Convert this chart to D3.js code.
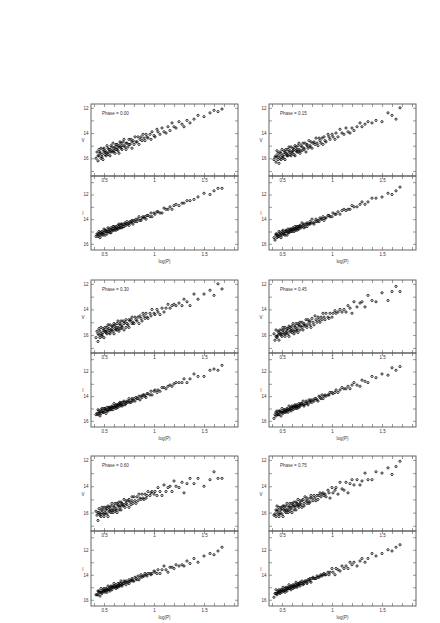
<!DOCTYPE html>
<meta charset="utf-8">
<style>
body { margin: 0; background: #fff; }
svg text { font-family: "Liberation Sans", Arial, sans-serif; fill: #333; }
.axis text { font-size: 4.5px; fill: #333; }
.axis line { stroke: #555; stroke-width: 0.6px; }
.frame { fill: none; stroke: #555; stroke-width: 0.9px; }
.star { fill: none; stroke: #000; stroke-width: 0.8px; }
.lbl { font-size: 4.5px; }
</style>
<body>
<script src="https://cdnjs.cloudflare.com/ajax/libs/d3/7.8.5/d3.min.js"></script>
<script>

// log of the period, one entry per star (same stars in every panel)
var logP = [0.42,0.43,0.44,0.44,0.45,0.45,0.46,0.46,0.47,0.47,
  0.48,0.48,0.49,0.49,0.50,0.50,0.51,0.51,0.52,0.52,
  0.53,0.53,0.54,0.54,0.55,0.55,0.56,0.56,0.57,0.57,
  0.58,0.58,0.59,0.59,0.60,0.60,0.61,0.61,0.62,0.62,
  0.63,0.63,0.64,0.64,0.65,0.65,0.66,0.66,0.67,0.67,
  0.68,0.68,0.69,0.70,0.70,0.71,0.72,0.72,0.73,0.74,
  0.75,0.75,0.76,0.77,0.78,0.78,0.79,0.80,0.81,0.82,
  0.83,0.84,0.85,0.86,0.87,0.88,0.89,0.90,0.91,0.92,
  0.93,0.94,0.96,0.97,0.98,1.00,1.01,1.03,1.04,1.06,
  1.08,1.10,1.12,1.14,1.16,1.18,1.20,1.22,1.25,1.28,
  1.30,1.33,1.36,1.40,1.44,1.50,1.56,1.60,1.64,1.68];

var phases = ["0.00", "0.15", "0.30", "0.45", "0.60", "0.75"];

// V magnitudes at each phase
var v000 = [16.0,15.5,15.8,16.2,15.3,15.8,15.6,15.5,16.0,15.2,
  15.7,15.9,15.3,16.1,15.5,15.2,15.7,15.4,15.8,15.5,
  15.0,15.6,15.7,15.2,15.5,15.3,15.8,15.3,15.0,15.5,
  15.4,15.1,15.5,14.8,15.2,15.4,15.1,15.6,14.9,15.3,
  15.3,14.9,15.1,15.4,15.0,15.6,14.7,15.1,14.8,15.2,
  15.0,15.3,14.7,15.0,14.5,15.1,15.3,14.8,14.8,15.1,
  14.5,14.9,14.9,14.5,15.2,14.7,14.6,14.9,14.3,14.7,
  14.7,14.3,14.9,14.5,14.3,14.6,14.1,14.4,14.6,14.1,
  14.3,14.4,14.1,14.5,13.9,14.2,14.3,13.7,13.9,14.1,
  13.6,13.9,14.0,13.5,13.8,13.2,13.5,13.6,13.1,13.3,
  13.5,13.0,13.2,12.9,12.6,12.7,12.4,12.2,12.3,12.1];
var v015 = [16.1,15.9,15.8,16.3,15.4,15.9,16.1,15.6,16.4,15.8,
  15.5,16.0,15.6,16.1,15.8,15.3,15.9,16.0,15.4,15.7,
  15.5,16.1,15.6,15.3,15.8,15.7,15.3,15.8,15.1,15.5,
  15.7,15.4,15.8,15.1,15.5,15.6,15.2,15.4,15.7,15.3,
  15.8,15.0,15.4,15.1,15.5,15.3,15.5,15.0,15.3,14.8,
  15.4,15.6,15.0,15.1,15.4,14.8,15.2,15.3,14.8,15.5,
  15.0,14.9,15.2,14.6,15.0,15.1,14.7,15.2,14.8,14.7,
  14.9,14.4,14.8,15.0,14.4,14.6,14.8,14.4,14.9,14.3,
  14.6,14.7,14.1,14.3,14.5,14.1,14.3,14.5,14.0,14.3,
  13.7,14.0,14.1,13.6,13.9,14.0,13.6,13.8,13.5,13.2,
  13.5,13.3,13.1,13.2,13.0,13.1,12.4,12.6,12.9,12.0];
var v030 = [16.2,15.7,16.5,15.9,15.5,16.0,15.7,16.2,15.9,15.4,
  16.0,16.1,15.5,15.8,15.6,16.2,15.7,15.4,15.8,15.7,
  15.4,15.9,15.2,15.6,15.8,15.5,15.9,15.2,15.6,15.7,
  15.3,15.5,15.7,15.3,15.9,15.1,15.5,15.2,15.6,15.4,
  15.6,15.1,15.4,14.9,15.5,15.7,15.1,15.2,15.5,14.9,
  15.3,15.4,14.9,15.6,15.1,15.0,15.4,14.8,15.1,15.2,
  14.8,15.4,14.9,14.8,15.1,14.6,15.0,15.1,14.6,14.8,
  14.9,14.6,15.1,14.5,14.7,14.9,14.3,14.5,14.7,14.3,
  14.6,14.7,14.3,14.5,14.0,14.3,14.4,14.0,14.2,14.4,
  13.9,14.2,13.9,13.6,13.9,13.7,13.6,13.7,13.5,13.7,
  13.2,13.4,13.7,12.8,13.2,12.8,12.5,12.9,12.0,12.4];
var v045 = [15.9,16.4,16.1,15.6,16.1,16.2,15.7,16.0,15.8,16.4,
  15.9,15.6,16.0,15.9,15.6,16.1,15.4,15.8,15.9,15.6,
  16.1,15.4,15.8,15.9,15.5,15.7,15.9,15.5,16.1,15.3,
  15.7,15.4,15.7,15.5,15.8,15.3,15.6,15.1,15.7,15.9,
  15.3,15.4,15.7,15.1,15.5,15.6,15.1,15.8,15.3,15.2,
  15.6,15.0,15.3,15.4,15.0,15.6,15.2,15.1,15.3,14.8,
  15.2,15.4,14.8,15.0,15.2,14.9,15.4,14.7,15.0,15.2,
  14.5,14.8,15.0,14.6,14.8,15.0,14.6,14.8,14.3,14.6,
  14.8,14.3,14.6,14.7,14.3,14.6,14.3,14.1,14.3,14.2,
  14.0,14.2,14.0,14.2,13.7,13.9,14.3,13.4,13.8,13.5,
  13.4,13.8,12.9,13.3,13.4,12.7,13.3,12.6,12.2,12.6];
var v060 = [15.9,16.2,16.0,16.6,16.0,15.7,16.2,16.1,15.8,16.3,
  15.6,16.0,16.1,15.8,16.3,15.6,16.0,16.1,15.6,15.8,
  16.1,15.7,16.3,15.5,15.9,15.6,15.9,15.7,16.0,15.5,
  15.8,15.3,15.8,16.0,15.5,15.6,15.9,15.3,15.7,15.8,
  15.3,16.0,15.5,15.4,15.8,15.2,15.5,15.6,15.2,15.8,
  15.4,15.3,15.5,15.0,15.4,15.6,15.1,15.3,15.4,15.1,
  15.6,15.0,15.2,15.4,14.8,15.1,15.3,14.8,15.1,15.3,
  14.8,15.1,14.6,14.9,15.0,14.6,14.9,15.0,14.6,14.9,
  14.7,14.4,14.7,14.5,14.4,14.6,14.4,14.7,14.1,14.4,
  14.7,13.9,14.4,14.1,14.0,14.4,13.6,14.0,14.1,13.7,
  14.5,13.8,13.4,13.8,13.4,14.0,13.5,12.9,13.4,13.4];
var v075 = [16.2,16.1,15.8,16.3,15.5,15.9,16.1,15.8,16.3,15.6,
  16.0,16.1,15.6,15.8,16.1,15.7,16.3,15.5,15.8,15.5,
  15.9,15.7,16.0,15.5,15.8,15.3,15.8,16.0,15.5,15.6,
  15.9,15.3,15.6,15.7,15.3,16.0,15.5,15.4,15.8,15.2,
  15.5,15.6,15.2,15.8,15.4,15.3,15.5,15.0,15.4,15.6,
  15.1,15.3,15.4,15.1,15.6,15.0,15.3,15.5,14.8,15.1,
  15.3,14.9,15.1,15.3,14.9,15.2,14.7,14.9,15.1,14.7,
  14.9,15.1,14.7,15.0,14.7,14.5,14.8,14.6,14.5,14.7,
  14.6,14.8,14.3,14.5,14.9,14.1,14.5,14.3,14.1,14.6,
  13.7,14.2,14.3,13.7,14.5,13.8,13.5,13.9,13.5,13.9,
  13.6,13.0,13.5,13.5,12.9,13.0,12.6,13.1,12.5,12.1];

// I magnitudes at each phase
var i000 = [15.4,15.2,15.4,15.2,15.0,15.3,15.5,15.1,15.1,15.3,
  15.0,15.2,15.1,15.3,14.8,15.1,14.9,15.3,15.0,14.9,
  15.2,15.0,14.7,15.0,15.0,14.8,15.1,14.9,14.7,15.1,
  14.8,14.9,14.6,14.9,14.9,14.6,14.7,14.8,14.6,14.9,
  14.8,14.7,14.5,14.8,14.6,14.4,14.7,14.7,14.5,14.4,
  14.7,14.4,14.6,14.4,14.6,14.3,14.4,14.5,14.2,14.4,
  14.3,14.5,14.2,14.3,14.2,14.1,14.4,14.1,14.2,14.0,
  14.2,14.0,13.8,14.1,14.1,13.9,13.8,13.9,13.8,14.0,
  13.7,13.7,13.8,13.5,13.8,13.5,13.6,13.4,13.4,13.5,
  13.5,13.1,13.2,13.2,13.0,13.2,12.9,12.8,12.9,12.7,
  12.7,12.5,12.5,12.4,12.2,11.9,12.0,11.7,11.5,11.5];
var i015 = [15.5,15.7,15.2,15.3,15.5,15.2,15.4,15.3,15.4,15.0,
  15.3,15.1,15.5,15.2,15.0,15.3,15.1,14.9,15.2,15.2,
  15.0,15.3,15.0,14.9,15.3,15.0,15.1,14.8,15.0,15.1,
  14.8,14.9,15.0,14.8,15.0,14.9,14.8,14.7,15.0,14.8,
  14.6,14.9,14.8,14.7,14.6,14.9,14.6,14.8,14.6,14.8,
  14.5,14.6,14.7,14.3,14.6,14.5,14.7,14.4,14.6,14.4,
  14.3,14.6,14.4,14.4,14.2,14.4,14.3,14.0,14.3,14.4,
  14.2,14.0,14.2,14.1,14.2,13.9,14.0,14.0,13.8,14.1,
  13.9,13.9,13.7,13.7,13.8,13.8,13.5,13.6,13.6,13.4,
  13.6,13.3,13.2,13.3,13.2,13.2,12.9,13.0,13.0,12.8,
  12.6,12.8,12.6,12.3,12.3,12.2,11.9,12.0,11.7,11.4];
var i030 = [15.5,15.4,15.5,15.1,15.4,15.2,15.6,15.3,15.1,15.4,
  15.2,15.0,15.3,15.3,15.0,15.3,15.1,15.0,15.4,15.1,
  15.2,14.9,15.1,15.2,14.9,15.0,15.1,14.9,15.1,15.0,
  14.9,14.8,15.1,14.9,14.6,14.9,14.9,14.8,14.7,15.0,
  14.7,14.9,14.7,14.9,14.6,14.7,14.8,14.5,14.7,14.6,
  14.8,14.5,14.7,14.5,14.4,14.7,14.5,14.6,14.4,14.5,
  14.4,14.2,14.5,14.5,14.3,14.2,14.4,14.2,14.4,14.1,
  14.2,14.2,14.0,14.3,14.0,14.1,13.9,13.9,14.0,14.1,
  13.8,13.8,13.9,13.6,13.9,13.6,13.5,13.7,13.5,13.6,
  13.3,13.3,13.4,13.2,13.1,13.2,13.0,12.9,12.9,12.9,
  12.6,12.9,12.6,12.2,12.4,12.4,11.9,11.8,11.9,11.5];
var i045 = [15.8,15.5,15.3,15.6,15.4,15.2,15.5,15.5,15.2,15.5,
  15.3,15.2,15.6,15.3,15.3,15.0,15.3,15.4,15.1,15.2,
  15.3,15.1,15.3,15.2,15.1,15.0,15.3,15.1,14.8,15.1,
  15.1,15.0,14.9,15.2,14.8,15.0,14.9,15.1,14.8,14.9,
  15.0,14.7,14.9,14.8,15.0,14.7,14.9,14.8,14.6,14.9,
  14.7,14.8,14.6,14.7,14.6,14.4,14.7,14.8,14.6,14.4,
  14.6,14.5,14.7,14.3,14.4,14.5,14.3,14.5,14.3,14.4,
  14.2,14.2,14.3,14.4,14.0,14.1,14.2,13.9,14.2,14.0,
  13.9,14.0,13.9,13.9,13.7,13.7,13.8,13.7,13.5,13.7,
  13.5,13.3,13.4,13.4,13.2,13.4,13.1,12.9,13.1,13.2,
  12.7,12.8,12.9,12.4,12.5,12.2,12.3,11.7,11.9,11.6];
var i060 = [15.6,15.6,15.3,15.6,15.4,15.3,15.7,15.4,15.4,15.1,
  15.4,15.5,15.2,15.3,15.3,15.1,15.4,15.3,15.2,15.1,
  15.4,15.2,14.9,15.2,15.2,15.1,15.0,15.3,14.9,15.1,
  15.0,15.2,14.9,15.0,15.0,14.7,15.0,14.9,15.1,14.8,
  15.0,14.9,14.7,15.0,14.8,14.9,14.7,14.9,14.7,14.5,
  14.8,14.9,14.7,14.5,14.7,14.6,14.8,14.5,14.6,14.6,
  14.4,14.7,14.5,14.5,14.3,14.4,14.5,14.5,14.2,14.3,
  14.4,14.1,14.4,14.2,14.0,14.2,14.1,14.1,13.9,14.0,
  14.1,13.9,13.9,14.0,13.9,13.7,13.8,13.9,13.6,13.9,
  13.6,13.3,13.6,13.8,13.4,13.4,13.5,13.2,13.3,13.2,
  13.3,12.9,13.1,12.7,13.0,12.5,12.3,12.4,12.1,11.8];
var i075 = [15.8,15.5,15.5,15.2,15.5,15.6,15.3,15.4,15.4,15.2,
  15.5,15.4,15.3,15.2,15.4,15.2,15.0,15.3,15.3,15.2,
  15.1,15.4,15.0,15.2,15.1,15.3,15.0,15.1,15.1,14.8,
  15.1,15.0,15.2,14.9,15.0,14.9,14.8,15.1,14.9,15.0,
  14.8,15.0,14.8,14.6,14.9,15.0,14.8,14.7,14.8,14.7,
  14.9,14.6,14.7,14.7,14.5,14.8,14.6,14.7,14.5,14.5,
  14.6,14.7,14.4,14.4,14.5,14.3,14.6,14.3,14.2,14.3,
  14.3,14.3,14.1,14.2,14.2,14.1,14.0,14.1,14.0,13.9,
  14.0,14.0,13.8,14.0,13.8,13.5,13.8,14.0,13.5,13.6,
  13.7,13.3,13.5,13.3,13.5,13.0,13.2,13.0,13.3,12.9,
  12.7,13.0,12.7,12.3,12.5,12.3,12.0,12.1,11.8,11.6];

var vSets = [v000, v015, v030, v045, v060, v075];
var iSets = [i000, i015, i030, i045, i060, i075];

// axis ticks
var xTicks = [0.4,0.5,0.6,0.7,0.8,0.9,1.0,1.1,1.2,1.3,1.4,1.5,1.6,1.7,1.8];
var xMajor = [0.5, 1, 1.5];
var xLabels = ["0.5", "1", "1.5"];
var vTicks = [12,13,14,15,16,17];
var iTicks = [11,12,13,14,15,16];
var yMajor = [12, 14, 16];
var yLabels = ["12", "14", "16"];

var width = 440,
    height = 623;

// layout: left/right edge of each column, top/middle/bottom of each row
var cols = [[91, 238], [269, 416]];
var rows = [[104, 176, 250], [280, 353, 427], [456, 531, 606]];

var svg = d3.select("body").append("svg")
    .attr("width", width)
    .attr("height", height);

svg.append("rect").attr("width", width).attr("height", height).attr("fill", "#fff");

function fmtX(d) {
  var k = xMajor.indexOf(d);
  return k < 0 ? "" : xLabels[k];
}
function fmtY(d) {
  var k = yMajor.indexOf(d);
  return k < 0 ? "" : yLabels[k];
}

function drawPanel(x, y, mags, col, top, bottom, yTicks, band) {
  var g = svg.append("g");

  g.append("rect")
    .attr("class", "frame")
    .attr("x", col[0]).attr("y", top)
    .attr("width", col[1] - col[0]).attr("height", bottom - top);

  g.append("g").attr("class", "axis")
    .attr("transform", "translate(0," + bottom + ")")
    .call(d3.axisBottom(x).tickValues(xTicks).tickSize(-3).tickPadding(2.5).tickFormat(fmtX));
  g.append("g").attr("class", "axis")
    .attr("transform", "translate(0," + top + ")")
    .call(d3.axisTop(x).tickValues(xTicks).tickSize(-3).tickFormat(""));
  g.append("g").attr("class", "axis")
    .attr("transform", "translate(" + col[0] + ",0)")
    .call(d3.axisLeft(y).tickValues(yTicks).tickSize(-3).tickPadding(2.5).tickFormat(fmtY));
  g.append("g").attr("class", "axis")
    .attr("transform", "translate(" + col[1] + ",0)")
    .call(d3.axisRight(y).tickValues(yTicks).tickSize(-3).tickFormat(""));
  g.selectAll(".domain").remove();

  g.selectAll(".star")
    .data(logP)
    .enter().append("circle")
    .attr("class", "star")
    .attr("cx", function(d) { return x(d); })
    .attr("cy", function(d, j) { return y(mags[j]); })
    .attr("r", 1.1);

  g.append("text")
    .attr("class", "lbl")
    .attr("x", col[0] - 8)
    .attr("y", (top + bottom) / 2 + 2)
    .attr("text-anchor", "middle")
    .text(band);
}

phases.forEach(function(ph, k) {
  var col = cols[k % 2],
      row = rows[Math.floor(k / 2)];

  var x = d3.scaleLinear().domain([0.37, 1.84]).range(col);
  var yV = d3.scaleLinear().domain([11.7, 17.4]).range([row[0], row[1]]);
  var yI = d3.scaleLinear().domain([10.5, 16.5]).range([row[1], row[2]]);

  drawPanel(x, yI, iSets[k], col, row[1], row[2], iTicks, "I");
  drawPanel(x, yV, vSets[k], col, row[0], row[1], vTicks, "V");

  svg.append("text")
    .attr("class", "lbl")
    .attr("x", col[0] + 11)
    .attr("y", row[0] + 11)
    .text("Phase = " + ph);

  svg.append("text")
    .attr("class", "lbl")
    .attr("x", (col[0] + col[1]) / 2)
    .attr("y", row[2] + 13)
    .attr("text-anchor", "middle")
    .text("log(P)");
});

</script>
